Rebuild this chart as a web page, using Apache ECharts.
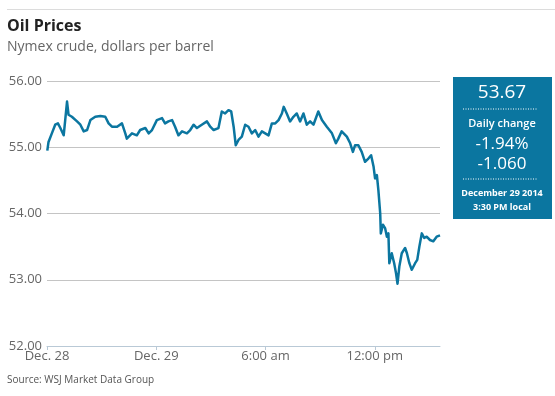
<!DOCTYPE html>
<html>
<head>
<meta charset="utf-8">
<script src="https://cdn.jsdelivr.net/npm/echarts@6/dist/echarts.min.js"></script>
<style>
html,body{margin:0;padding:0;background:#fff;}
#c{width:555px;height:396px;}
</style>
</head>
<body>
<div id="c"></div>
<script>
// minutes since 6:00 pm Dec. 28
const minutes = [1,5,16,27,36,44,55,60,66,71,82,99,110,121,132,143,159,176,192,203,214,231,247,258,263,280,296,307,324,335,346,362,379,389,400,412,422,433,445,461,472,483,494,510,527,538,549,565,576,587,598,607,615,622,631,642,653,664,675,686,697,708,719,730,741,752,763,774,780,790,801,812,823,834,845,856,867,878,894,906,922,939,952,960,971,977,988,999,1008,1015,1026,1037,1048,1059,1068,1076,1081,1087,1092,1098,1100,1107,1114,1120,1125,1128,1136,1144,1150,1155,1161,1169,1180,1186,1194,1202,1213,1220,1227,1235,1243,1251,1262,1273,1284,1295];
const prices = [54.95,55.08,55.21,55.34,55.36,55.29,55.18,55.41,55.69,55.49,55.46,55.39,55.34,55.24,55.26,55.41,55.46,55.47,55.46,55.36,55.31,55.31,55.36,55.21,55.13,55.21,55.18,55.26,55.29,55.21,55.26,55.41,55.44,55.36,55.39,55.41,55.31,55.18,55.24,55.21,55.26,55.34,55.29,55.34,55.39,55.31,55.26,55.29,55.54,55.51,55.56,55.54,55.31,55.03,55.11,55.16,55.34,55.31,55.21,55.26,55.16,55.24,55.21,55.18,55.36,55.36,55.41,55.51,55.61,55.51,55.39,55.46,55.51,55.39,55.51,55.34,55.39,55.34,55.54,55.41,55.31,55.21,55.06,55.13,55.24,55.24,55.16,55.06,54.93,55.03,55.03,54.93,54.78,54.83,54.88,54.71,54.53,54.58,54.35,54.00,53.70,53.83,53.78,53.65,53.70,53.25,53.40,53.25,53.10,52.94,53.20,53.40,53.48,53.40,53.25,53.15,53.25,53.30,53.50,53.70,53.63,53.65,53.60,53.58,53.65,53.67];
const tickLabels = ['Dec. 28','Dec. 29','6:00 am','12:00 pm'];
const yTicks = [52,53,54,55,56];
const title = 'Oil Prices';
const subtitle = 'Nymex crude, dollars per barrel';
const source = 'Source: WSJ Market Data Group';
const lastPrice = '53.67';
const changeLabel = 'Daily change';
const changePct = '-1.94%';
const changeAbs = '-1.060';
const dateLabel = 'December 29 2014';
const timeLabel = '3:30 PM local';

const FONT = '"Open Sans", sans-serif';
const BLUE = '#0b76a0';
const chart = echarts.init(document.getElementById('c'), null, {renderer:'canvas'});
const data = minutes.map((m,i)=>[m, prices[i]]);

chart.setOption({
  animation:false,
  grid:{left:47, right:115, top:81, bottom:50, containLabel:false},
  xAxis:{
    type:'value', min:0, max:1295, interval:360,
    axisLine:{show:true, lineStyle:{color:'#b9c9d6', width:1}},
    axisTick:{show:true, length:4, lineStyle:{color:'#b9c9d6'}},
    splitLine:{show:false},
    axisLabel:{
      color:'#666', fontFamily:FONT, fontSize:13, margin:4, showMaxLabel:false,
      formatter:function(v){ const i=Math.round(v/360); return (Math.abs(v-i*360)<1 && tickLabels[i]) ? tickLabels[i] : ''; }
    }
  },
  yAxis:{
    type:'value', min:yTicks[0], max:yTicks[yTicks.length-1], interval:1,
    axisLine:{show:false}, axisTick:{show:false},
    splitLine:{show:true, lineStyle:{color:'#c4c4c4', width:1}},
    axisLabel:{color:'#666', fontFamily:FONT, fontSize:13, margin:5, formatter:v=>v.toFixed(2)}
  },
  series:[{
    type:'line', data:data, showSymbol:false, symbol:'none',
    lineStyle:{color:BLUE, width:2.5, join:'round'}, z:5
  }],
  graphic:[
    {type:'line', shape:{x1:7,y1:9.5,x2:555,y2:9.5}, style:{stroke:'#dcdcdc', lineWidth:1}},
    {type:'text', left:7, top:18, style:{text:title, font:'bold 16px '+FONT, fill:'#222'}},
    {type:'text', left:7, top:40, style:{text:subtitle, font:'14px '+FONT, fill:'#666'}},
    {type:'text', left:7, top:375, style:{text:source, font:'10px '+FONT, fill:'#555'}},
    {type:'rect', shape:{x:453,y:77,width:99,height:142}, style:{fill:BLUE}},
    {type:'text', x:502, y:93, style:{text:lastPrice, font:'19px '+FONT, fill:'#fff', align:'center', verticalAlign:'middle'}},
    {type:'line', shape:{x1:463,y1:109,x2:537,y2:109}, style:{stroke:'#fff', lineWidth:1, lineDash:[1,1.5]}},
    {type:'text', x:502, y:124, style:{text:changeLabel, font:'600 11px '+FONT, fill:'#fff', align:'center', verticalAlign:'middle'}},
    {type:'text', x:502, y:144, style:{text:changePct, font:'17px '+FONT, fill:'#fff', align:'center', verticalAlign:'middle'}},
    {type:'text', x:502, y:164, style:{text:changeAbs, font:'17px '+FONT, fill:'#fff', align:'center', verticalAlign:'middle'}},
    {type:'line', shape:{x1:463,y1:179,x2:537,y2:179}, style:{stroke:'#fff', lineWidth:1, lineDash:[1,1.5]}},
    {type:'text', x:502, y:193, style:{text:dateLabel, font:'bold 9px '+FONT, fill:'#fff', align:'center', verticalAlign:'middle'}},
    {type:'text', x:502, y:207, style:{text:timeLabel, font:'bold 9px '+FONT, fill:'#fff', align:'center', verticalAlign:'middle'}}
  ]
});
</script>
</body>
</html>
